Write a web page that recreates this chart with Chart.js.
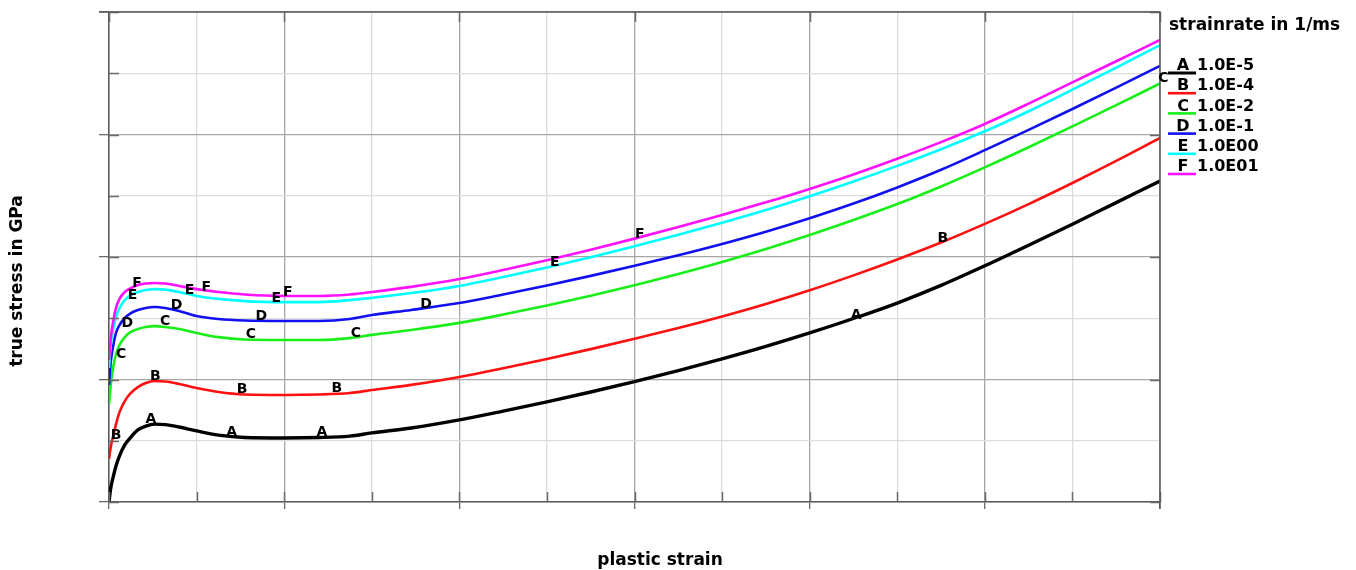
<!DOCTYPE html>
<html>
<head>
<meta charset="utf-8">
<script src="https://cdn.jsdelivr.net/npm/chart.js@4/dist/chart.umd.min.js"></script>
<style>
  html, body { margin: 0; padding: 0; background: #ffffff; }
  #wrap { width: 1356px; height: 570px; position: relative; }
</style>
</head>
<body>
<div id="wrap"><canvas id="c" width="1356" height="570"></canvas></div>
<script>
// plastic strain sample positions shared by all curves
const strain = [0, 0.002, 0.005, 0.008, 0.012, 0.018, 0.025, 0.033, 0.042, 0.052, 0.064, 0.08, 0.1, 0.125, 0.155, 0.2, 0.24, 0.275, 0.3, 0.345, 0.4, 0.45, 0.5, 0.55, 0.6, 0.65, 0.7, 0.75, 0.8, 0.85, 0.9, 0.95, 1.0, 1.05, 1.1, 1.15, 1.2];

// true stress in GPa, one curve per strain rate
const stressA = [0, 0.057, 0.106, 0.147, 0.188, 0.233, 0.265, 0.294, 0.310, 0.318, 0.316, 0.306, 0.290, 0.273, 0.263, 0.261, 0.263, 0.269, 0.282, 0.302, 0.335, 0.371, 0.409, 0.449, 0.491, 0.536, 0.584, 0.635, 0.690, 0.749, 0.812, 0.884, 0.964, 1.048, 1.134, 1.222, 1.310];
const stressB = [0.176, 0.224, 0.273, 0.318, 0.367, 0.412, 0.445, 0.469, 0.486, 0.494, 0.492, 0.482, 0.465, 0.449, 0.439, 0.437, 0.439, 0.445, 0.457, 0.478, 0.510, 0.546, 0.584, 0.624, 0.666, 0.710, 0.757, 0.808, 0.864, 0.925, 0.990, 1.059, 1.135, 1.216, 1.302, 1.392, 1.486];
const stressC = [0.400, 0.478, 0.555, 0.604, 0.641, 0.673, 0.694, 0.706, 0.714, 0.718, 0.714, 0.706, 0.690, 0.673, 0.663, 0.661, 0.661, 0.669, 0.682, 0.702, 0.731, 0.765, 0.802, 0.842, 0.885, 0.931, 0.980, 1.033, 1.090, 1.151, 1.216, 1.288, 1.366, 1.448, 1.533, 1.620, 1.708];
const stressD = [0.478, 0.571, 0.641, 0.690, 0.722, 0.751, 0.771, 0.784, 0.792, 0.796, 0.792, 0.780, 0.759, 0.747, 0.741, 0.739, 0.739, 0.747, 0.763, 0.784, 0.812, 0.847, 0.884, 0.923, 0.964, 1.007, 1.053, 1.103, 1.158, 1.218, 1.284, 1.356, 1.436, 1.519, 1.604, 1.691, 1.780];
const stressE = [0.547, 0.641, 0.710, 0.755, 0.792, 0.824, 0.845, 0.857, 0.865, 0.869, 0.867, 0.857, 0.841, 0.829, 0.820, 0.816, 0.816, 0.824, 0.833, 0.853, 0.882, 0.918, 0.957, 0.999, 1.044, 1.091, 1.140, 1.192, 1.248, 1.308, 1.372, 1.440, 1.513, 1.595, 1.683, 1.773, 1.865];
const stressF = [0.580, 0.669, 0.743, 0.792, 0.829, 0.857, 0.873, 0.886, 0.892, 0.894, 0.892, 0.882, 0.869, 0.857, 0.847, 0.841, 0.841, 0.847, 0.857, 0.878, 0.910, 0.947, 0.987, 1.030, 1.075, 1.122, 1.171, 1.223, 1.278, 1.337, 1.401, 1.469, 1.543, 1.626, 1.713, 1.799, 1.886];

// curve identifiers and strain rates (1/ms)
const curveLetters = ['A', 'B', 'C', 'D', 'E', 'F'];
const strainRates = ['1.0E-5', '1.0E-4', '1.0E-2', '1.0E-1', '1.0E00', '1.0E01'];
const curveColors = ['#000000', '#ff1010', '#18ee18', '#1010f0', '#00ffff', '#ff10ff'];
const curveWidths = [3.4, 2.6, 2.6, 2.6, 2.6, 2.6];

// identifier letters written along each curve: [strain, stress]
const tagsA = [[0.048, 0.339], [0.140, 0.286], [0.243, 0.286], [0.853, 0.763]];
const tagsB = [[0.008, 0.273], [0.053, 0.514], [0.152, 0.461], [0.260, 0.465], [0.952, 1.078]];
const tagsC = [[0.014, 0.604], [0.064, 0.739], [0.162, 0.686], [0.282, 0.690], [1.204, 1.731]];
const tagsD = [[0.021, 0.731], [0.077, 0.804], [0.174, 0.759], [0.362, 0.808]];
const tagsE = [[0.027, 0.845], [0.092, 0.865], [0.191, 0.833], [0.509, 0.980]];
const tagsF = [[0.032, 0.894], [0.111, 0.878], [0.204, 0.857], [0.606, 1.094]];

const stressSets = [stressA, stressB, stressC, stressD, stressE, stressF];
const tagSets = [tagsA, tagsB, tagsC, tagsD, tagsE, tagsF];

const FONT = "'DejaVu Sans', 'Liberation Sans', sans-serif";

const datasets = stressSets.map((ys, i) => ({
  label: strainRates[i],
  data: strain.map((x, k) => ({ x: x, y: ys[k] })),
  borderColor: curveColors[i],
  borderWidth: curveWidths[i],
  pointRadius: 0,
  fill: false,
  cubicInterpolationMode: 'monotone',
  order: 6 - i
}));

// frame, inner ticks, curve letters, legend and axis titles
const decorations = {
  id: 'decorations',
  afterDatasetsDraw(chart) {
    const ctx = chart.ctx;
    const a = chart.chartArea;
    const xs = chart.scales.x, ys = chart.scales.y;
    ctx.save();
    // short inward ticks
    ctx.strokeStyle = '#6a6a6a';
    ctx.lineWidth = 1.5;
    xs.ticks.forEach((t, i) => {
      const px = Math.round(xs.getPixelForValue(t.value)) + 0.5;
      ctx.beginPath();
      ctx.moveTo(px, a.bottom); ctx.lineTo(px, a.bottom - 10);
      if (i % 2 === 0) { ctx.moveTo(px, a.top); ctx.lineTo(px, a.top + 10); }
      ctx.stroke();
    });
    ys.ticks.forEach((t, i) => {
      const py = Math.round(ys.getPixelForValue(t.value)) + 0.5;
      ctx.beginPath();
      ctx.moveTo(a.left, py); ctx.lineTo(a.left + 10, py);
      if (i % 2 === 0) { ctx.moveTo(a.right, py); ctx.lineTo(a.right - 10, py); }
      ctx.stroke();
    });
    // plot frame
    ctx.strokeStyle = '#5a5a5a';
    ctx.lineWidth = 1.5;
    ctx.beginPath();
    ctx.moveTo(a.left - 10, a.top); ctx.lineTo(a.right, a.top);
    ctx.lineTo(a.right, a.bottom + 7);
    ctx.stroke();

    // letters along the curves
    ctx.fillStyle = '#000000';
    ctx.font = 'bold 14px ' + FONT;
    ctx.textAlign = 'center';
    ctx.textBaseline = 'middle';
    tagSets.forEach((tags, i) => {
      tags.forEach(p => {
        ctx.fillText(curveLetters[i], xs.getPixelForValue(p[0]), ys.getPixelForValue(p[1]));
      });
    });
    ctx.restore();
  },
  afterDraw(chart) {
    const ctx = chart.ctx;
    const a = chart.chartArea;
    ctx.save();
    // legend
    const lx = a.right + 9;
    ctx.fillStyle = '#000000';
    ctx.textBaseline = 'middle';
    ctx.textAlign = 'left';
    ctx.font = 'bold 17px ' + FONT;
    ctx.fillText('strainrate in 1/ms', lx, 26);
    chart.data.datasets.forEach((ds, i) => {
      const cy = 66 + i * 20.2;
      ctx.strokeStyle = ds.borderColor;
      ctx.lineWidth = i === 0 ? 3 : 2.6;
      ctx.beginPath();
      ctx.moveTo(lx - 1, cy + 7); ctx.lineTo(lx + 27, cy + 7);
      ctx.stroke();
      ctx.font = 'bold 16px ' + FONT;
      ctx.textAlign = 'center';
      ctx.fillText(curveLetters[i], lx + 14, cy);
      ctx.textAlign = 'left';
      ctx.fillText(ds.label, lx + 28, cy);
    });
    // axis titles
    ctx.font = 'bold 17px ' + FONT;
    ctx.textAlign = 'center';
    ctx.fillText('plastic strain', 660, 561);
    ctx.translate(18, 281);
    ctx.rotate(-Math.PI / 2);
    ctx.fillText('true stress in GPa', 0, 0);
    ctx.restore();
  }
};

new Chart(document.getElementById('c'), {
  type: 'line',
  data: { datasets: datasets },
  options: {
    responsive: false,
    animation: false,
    layout: { padding: { left: 109, right: 196, top: 12, bottom: 68 } },
    plugins: { legend: { display: false }, tooltip: { enabled: false }, title: { display: false } },
    scales: {
      x: {
        type: 'linear',
        min: 0, max: 1.2,
        ticks: { stepSize: 0.1, display: false },
        afterFit: s => { s.height = 0; },
        grid: {
          color: c => (c.index % 2 === 0 ? '#a6a6a6' : '#dcdcdc'),
          lineWidth: 1.3,
          tickLength: 7,
          tickColor: c => (c.index % 2 === 0 ? '#6a6a6a' : 'rgba(0,0,0,0)')
        },
        border: { display: true, color: '#5a5a5a', width: 1.5 }
      },
      y: {
        type: 'linear',
        min: 0, max: 2.0,
        ticks: { stepSize: 0.25, display: false },
        afterFit: s => { s.width = 0; },
        grid: {
          color: c => (c.index % 2 === 0 ? '#a6a6a6' : '#dcdcdc'),
          lineWidth: 1.3,
          tickLength: 10,
          tickColor: c => (c.index % 2 === 0 ? '#6a6a6a' : 'rgba(0,0,0,0)')
        },
        border: { display: true, color: '#5a5a5a', width: 1.5 }
      }
    }
  },
  plugins: [decorations]
});
</script>
</body>
</html>
